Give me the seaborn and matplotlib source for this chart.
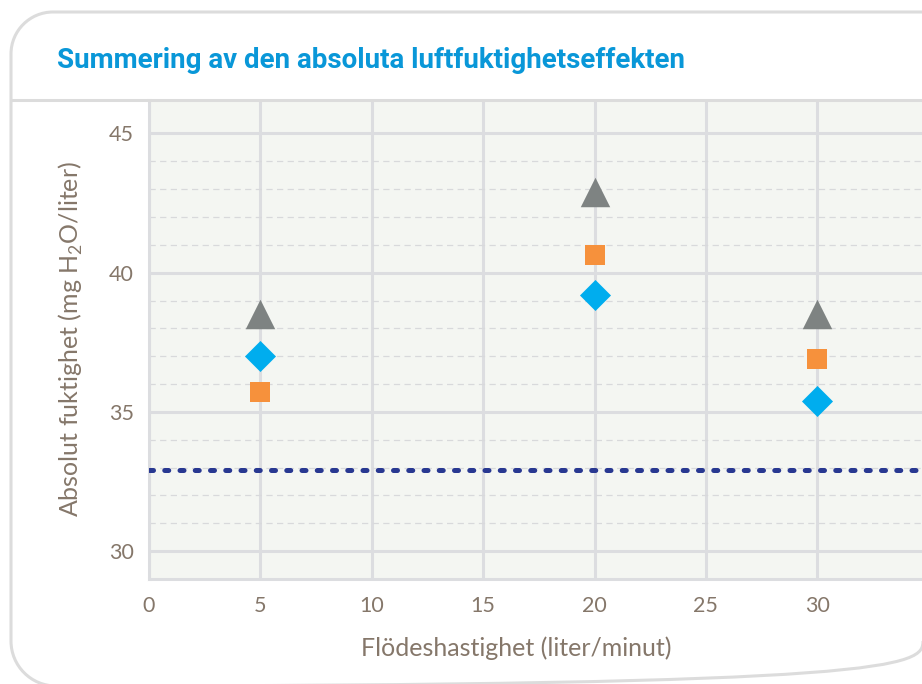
import matplotlib
matplotlib.use('Agg')
import matplotlib.pyplot as plt
import seaborn as sns
import pandas as pd
from matplotlib.patches import PathPatch
from matplotlib.path import Path
from matplotlib.lines import Line2D

# data
flow = [5, 20, 30]
serie_triangel = [38.5, 42.9, 38.5]
serie_kvadrat = [35.7, 40.65, 36.9]
serie_romb = [37.0, 39.2, 35.4]
referens = 32.9

title = 'Summering av den absoluta luftfuktighetseffekten'
xlabel = 'Flödeshastighet (liter/minut)'
ylabel = 'Absolut fuktighet (mg H$_2$O/liter)'

sns.set_theme(style='white')
plt.rcParams['font.family'] = ['Lato', 'DejaVu Sans']
plt.rcParams['mathtext.fontset'] = 'custom'
plt.rcParams['mathtext.rm'] = 'Lato'

txt_col = '#85776a'
grid_col = '#dcdde0'
W, H = 922, 684

fig = plt.figure(figsize=(W / 100, H / 100), dpi=100)
ax = fig.add_axes([149/W, 1 - 579/H, 1 - 149/W, (579 - 100)/H])
ax.set_facecolor('#f4f6f2')

df = pd.DataFrame({'flow': flow, 'tri': serie_triangel, 'sq': serie_kvadrat, 'dia': serie_romb})

ax.axhline(referens, color='#283891', lw=3.6, linestyle=(0, (0.8, 2.25)),
           dash_capstyle='round', zorder=3)

sns.scatterplot(data=df, x='flow', y='tri', marker='^', s=450, color='#7e8382',
                linewidth=0, ax=ax, zorder=4)
sns.scatterplot(data=df, x='flow', y='sq', marker='s', s=225, color='#f6913c',
                linewidth=0, ax=ax, zorder=4)
sns.scatterplot(data=df, x='flow', y='dia', marker='D', s=250, color='#00adee',
                linewidth=0, ax=ax, zorder=4)

ax.set_xlim(0, 34.7)
ax.set_ylim(29, 46.2)
ax.set_xticks([0, 5, 10, 15, 20, 25, 30])
ax.set_yticks([30, 35, 40, 45])
ax.set_yticks([y for y in range(30, 46) if y % 5 != 0], minor=True)
ax.grid(True, which='major', color=grid_col, lw=2.2, zorder=0)
ax.grid(True, which='minor', axis='y', color='#d8d9db', lw=0.9,
        linestyle=(0, (5, 3.5)), zorder=0)
ax.set_axisbelow(True)
for side in ['top', 'right']:
    ax.spines[side].set_visible(False)
ax.spines['left'].set_color(grid_col)
ax.spines['left'].set_linewidth(2.2)
ax.spines['bottom'].set_color(grid_col)
ax.spines['bottom'].set_linewidth(2.2)

ax.tick_params(axis='both', which='both', length=0, labelsize=15.5, labelcolor=txt_col)
ax.tick_params(axis='x', pad=12)
ax.tick_params(axis='y', pad=11)

ax.set_xlabel(xlabel, fontsize=18, color=txt_col)
ax.xaxis.set_label_coords((516 - 149) / 773, (579 - 636) / 479)
ax.set_ylabel(ylabel, fontsize=18, color=txt_col, labelpad=17)


# frame around the whole chart (pixel coords -> figure fraction)
def px(x, y):
    return (x / W, 1 - y / H)


k = 0.5523
r1, r2 = 42, 45
left, top, right, bottom = 11, 12, 923, 686
verts = [px(960, top), px(left + r1, top),
         px(left + r1 * (1 - k), top), px(left, top + r1 * (1 - k)), px(left, top + r1),
         px(left, bottom - r2),
         px(left, bottom - r2 * (1 - k)), px(left + r2 * (1 - k), bottom), px(left + r2, bottom),
         px(right - r2, bottom),
         px(right - r2 * (1 - k), bottom), px(right, bottom - r2 * (1 - k)), px(right, bottom - r2),
         px(right, top)]
codes = [Path.MOVETO, Path.LINETO,
         Path.CURVE4, Path.CURVE4, Path.CURVE4,
         Path.LINETO,
         Path.CURVE4, Path.CURVE4, Path.CURVE4,
         Path.LINETO,
         Path.CURVE4, Path.CURVE4, Path.CURVE4,
         Path.LINETO]
frame = PathPatch(Path(verts, codes), transform=fig.transFigure, facecolor='none',
                  edgecolor='#dcdcdc', lw=2.2, zorder=-1)
fig.patches.append(frame)
fig.lines.append(Line2D([left / W, 1], [1 - 100/H, 1 - 100/H], transform=fig.transFigure,
                        color='#dcdcdc', lw=2.2))

fig.text(57/W, 1 - 61/H, title, fontsize=20, fontweight='bold', color='#0997d8',
         va='center', ha='left', family=['Liberation Sans Narrow', 'Roboto', 'DejaVu Sans'])

fig.savefig('out.png', dpi=100)
